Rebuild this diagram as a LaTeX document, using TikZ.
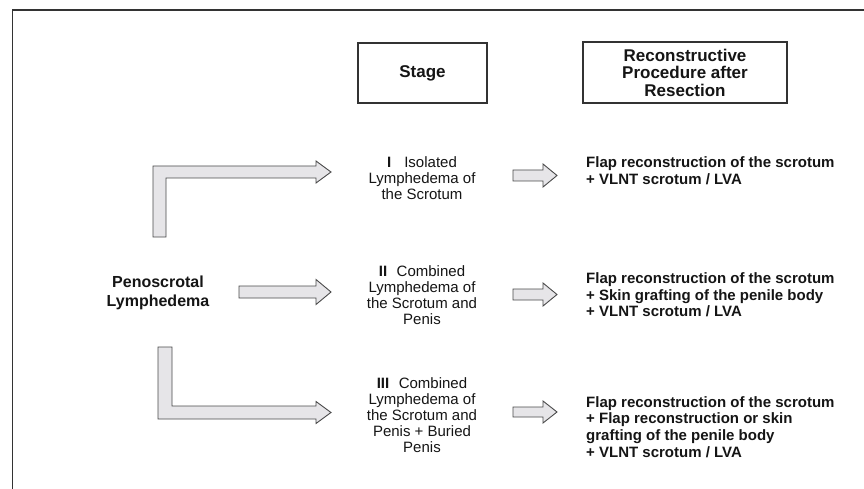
\documentclass[tikz,border=0pt]{standalone}
\usepackage{fontspec}
\setmainfont{Liberation Sans}
\definecolor{arrfill}{HTML}{E6E5E8}
\definecolor{arrline}{HTML}{4A4A4A}
\definecolor{frameline}{HTML}{333333}
\definecolor{txt}{HTML}{151515}
\begin{document}
\begin{tikzpicture}[x=1pt,y=-1pt,
  arr/.style={fill=arrfill,draw=arrline,line width=0.9pt,line join=miter},
  hdrbox/.style={draw=frameline,line width=1.3pt,inner sep=0pt,text=txt,align=center,
    font=\fontsize{17}{17.5}\selectfont\bfseries},
  stagetxt/.style={inner sep=0pt,text=txt,align=center,font=\fontsize{15}{16}\selectfont},
  proctxt/.style={inner sep=0pt,text=txt,align=left,anchor=west,font=\fontsize{15}{16.7}\selectfont\bfseries},
  roottxt/.style={inner sep=0pt,text=txt,align=center,font=\fontsize{16}{19}\selectfont\bfseries}]
\clip (0,0) rectangle (864,489);
\fill[white] (0,0) rectangle (864,489);
% outer frame (continues beyond right and bottom edges)
\draw[frameline,line width=1.5pt] (12.5,500) -- (12.5,10) -- (880,10);
% headers
\node[hdrbox,minimum width=129pt,minimum height=60pt] (stagehdr) at (422.5,73) {Stage};
\node[hdrbox,minimum width=204pt,minimum height=61pt] (prochdr) at (685,72.5) {Reconstructive\\Procedure after\\Resection};
% root
\node[roottxt] (root) at (158,292.5) {Penoscrotal\\Lymphedema};
% stages
\node[stagetxt] (s1) at (422,178) {\textbf{I}\hspace{13pt}Isolated\\Lymphedema of\\the Scrotum};
\node[stagetxt] (s2) at (422,295) {\textbf{II}\hspace{9.5pt}Combined\\Lymphedema of\\the Scrotum and\\Penis};
\node[stagetxt] (s3) at (422,415) {\textbf{III}\hspace{9.5pt}Combined\\Lymphedema of\\the Scrotum and\\Penis + Buried\\Penis};
% procedures
\node[proctxt] (p1) at (586,170.5) {Flap reconstruction of the scrotum\\+ VLNT scrotum / LVA};
\node[proctxt] (p2) at (586,295) {Flap reconstruction of the scrotum\\+ Skin grafting of the penile body\\+ VLNT scrotum / LVA};
\node[proctxt] (p3) at (586,427) {Flap reconstruction of the scrotum\\+ Flap reconstruction or skin\\grafting of the penile body\\+ VLNT scrotum / LVA};
% L-shaped arrow to stage I
\draw[arr] (153,237) -- (153,166) -- (316,166) -- (316,161) -- (331,172) -- (316,183) -- (316,178) -- (166,178) -- (166,237) -- cycle;
% straight arrow to stage II
\draw[arr] (239,286) -- (316,286) -- (316,279.5) -- (331,292) -- (316,304.5) -- (316,298) -- (239,298) -- cycle;
% L-shaped arrow to stage III
\draw[arr] (158,347) -- (172,347) -- (172,406) -- (316,406) -- (316,401.5) -- (331,412.5) -- (316,423.5) -- (316,419) -- (158,419) -- cycle;
% small arrows stage -> procedure
\draw[arr] (513,170) -- (543,170) -- (543,164) -- (557,175.5) -- (543,187) -- (543,181) -- (513,181) -- cycle;
\draw[arr] (513,289) -- (543,289) -- (543,283) -- (557,294.5) -- (543,306) -- (543,300) -- (513,300) -- cycle;
\draw[arr] (513,407) -- (543,407) -- (543,401) -- (557,412) -- (543,423) -- (543,417) -- (513,417) -- cycle;
\end{tikzpicture}
\end{document}
